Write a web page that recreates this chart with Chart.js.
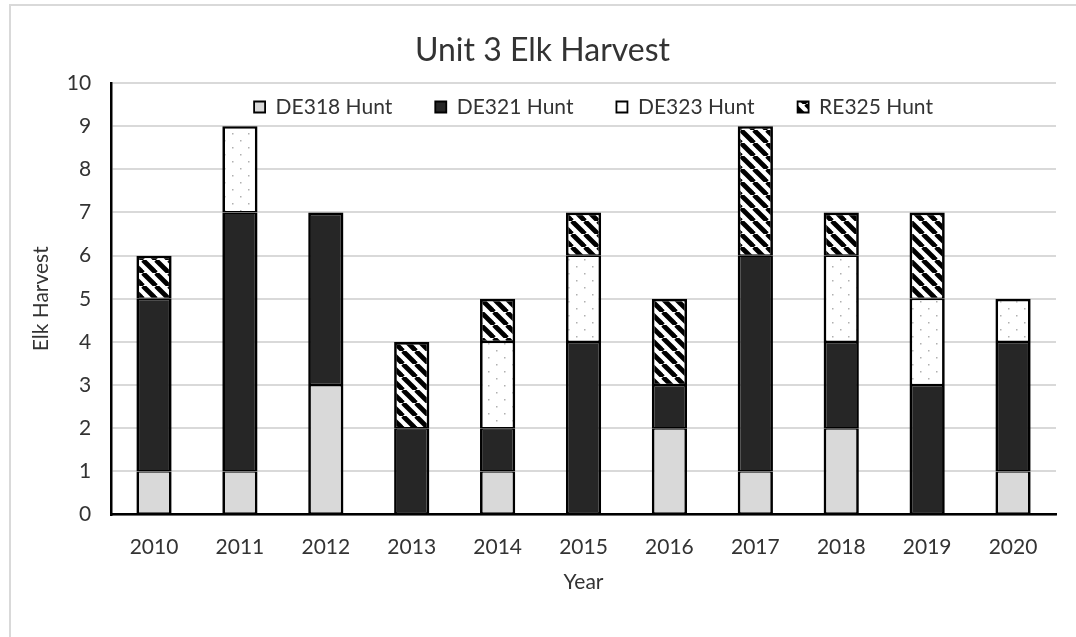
<!DOCTYPE html>
<html>
<head>
<meta charset="utf-8">
<script src="https://cdn.jsdelivr.net/npm/chart.js@4"></script>
<style>
  html, body { margin: 0; padding: 0; background: #fff; overflow: hidden; }
  #wrap { position: relative; width: 1076px; height: 637px; }
  #frame { position: absolute; left: 9px; top: 4px; width: 1100px; height: 700px; border: 2px solid #d9d9d9; box-sizing: border-box; }
  canvas { position: absolute; left: 0; top: 0; }
</style>
</head>
<body>
<div id="wrap">
  <div id="frame"></div>
  <canvas id="c" width="1076" height="637"></canvas>
</div>
<script>
const years = ['2010','2011','2012','2013','2014','2015','2016','2017','2018','2019','2020'];
const de318 = [1, 1, 3, 0, 1, 0, 2, 1, 2, 0, 1];
const de321 = [4, 6, 4, 2, 1, 4, 1, 5, 2, 3, 3];
const de323 = [0, 2, 0, 0, 2, 2, 0, 0, 2, 2, 1];
const re325 = [1, 0, 0, 2, 1, 1, 2, 3, 1, 2, 0];
const seriesNames = ['DE318 Hunt', 'DE321 Hunt', 'DE323 Hunt', 'RE325 Hunt'];
const allSeries = [de318, de321, de323, re325];

function dotPattern() {
  const c = document.createElement('canvas');
  c.width = 16; c.height = 14;
  const g = c.getContext('2d');
  g.fillStyle = '#ffffff'; g.fillRect(0, 0, 16, 14);
  g.fillStyle = '#b0b0b0';
  g.fillRect(0, 0, 1.5, 1.5);
  g.fillRect(8, 7, 1.5, 1.5);
  return g.createPattern(c, 'repeat');
}
function stripePattern() {
  const s = 13;
  const c = document.createElement('canvas');
  c.width = s; c.height = s;
  const g = c.getContext('2d');
  g.fillStyle = '#ffffff'; g.fillRect(0, 0, s, s);
  g.strokeStyle = '#000000'; g.lineWidth = 4.8;
  for (const o of [-s, 0, s]) {
    g.beginPath(); g.moveTo(o, 0); g.lineTo(o + s, s); g.stroke();
  }
  return g.createPattern(c, 'repeat');
}

const FONT = 'Lato';
const TXT = '#333333';

const legendInside = {
  id: 'legendInside',
  afterInit(chart) {
    const lg = chart.legend;
    const orig = lg.fit;
    lg.fit = function () { orig.call(this); this.height = 0; };
  },
  afterLayout(chart) {
    const lg = chart.legend;
    const pad = lg.options.labels.padding;
    const fs = lg.options.labels.font.size;
    lg.top = 107 - fs / 2 - pad;
    lg.bottom = lg.top + pad + fs + 30;
    lg.left = chart.chartArea.left + 10;
    lg.right = chart.chartArea.right + 10;
    lg.width = lg.right - lg.left;
    lg.height = lg.bottom - lg.top;
  }
};

function borderFor(ctx) {
  const i = ctx.dataIndex, d = ctx.datasetIndex;
  let isTop = true;
  for (let k = d + 1; k < allSeries.length; k++) {
    if (allSeries[k][i] > 0) { isTop = false; break; }
  }
  return { left: 2.7, right: 2.7, bottom: 1.4, top: isTop ? 2.7 : 1.4 };
}

const common = { borderColor: '#000000', borderWidth: borderFor, borderSkipped: false, barPercentage: 0.41, categoryPercentage: 1.0 };

new Chart(document.getElementById('c'), {
  type: 'bar',
  data: {
    labels: years,
    datasets: [
      Object.assign({ label: seriesNames[0], data: de318, backgroundColor: '#d9d9d9' }, common),
      Object.assign({ label: seriesNames[1], data: de321, backgroundColor: '#262626' }, common),
      Object.assign({ label: seriesNames[2], data: de323, backgroundColor: dotPattern() }, common),
      Object.assign({ label: seriesNames[3], data: re325, backgroundColor: stripePattern() }, common)
    ]
  },
  plugins: [legendInside],
  options: {
    responsive: false,
    animation: false,
    layout: { padding: { left: 29, right: 20, top: 31.3, bottom: 42 } },
    plugins: {
      title: { display: true, text: 'Unit 3 Elk Harvest', color: TXT, font: { family: FONT, size: 32, weight: 'normal' }, padding: { top: 0, bottom: 13.3 } },
      legend: {
        display: true, position: 'top', align: 'center',
        labels: {
          color: TXT, font: { family: FONT, size: 21 }, boxWidth: 11, boxHeight: 11, padding: 43,
          generateLabels(chart) {
            return chart.data.datasets.map((ds, i) => ({
              text: ds.label, fillStyle: ds.backgroundColor, strokeStyle: '#000000', lineWidth: 1.8,
              fontColor: TXT, hidden: false, datasetIndex: i
            }));
          }
        }
      },
      tooltip: { enabled: false }
    },
    scales: {
      x: {
        stacked: true,
        grid: { display: false, drawTicks: false },
        border: { display: true, color: '#000000', width: 2.5 },
        ticks: { color: TXT, font: { family: FONT, size: 21 }, padding: 20 },
        title: { display: true, text: 'Year', color: TXT, font: { family: FONT, size: 21 }, padding: { top: -10, bottom: 0 } }
      },
      y: {
        stacked: true,
        min: 0, max: 10,
        ticks: { stepSize: 1, color: TXT, font: { family: FONT, size: 21 }, padding: 20 },
        grid: { color: '#d9d9d9', lineWidth: 2, drawTicks: false },
        border: { display: true, color: '#000000', width: 2.5 },
        title: { display: true, text: 'Elk Harvest', color: TXT, font: { family: FONT, size: 21 }, padding: { top: 0, bottom: -7.5 } }
      }
    }
  }
});
</script>
</body>
</html>
